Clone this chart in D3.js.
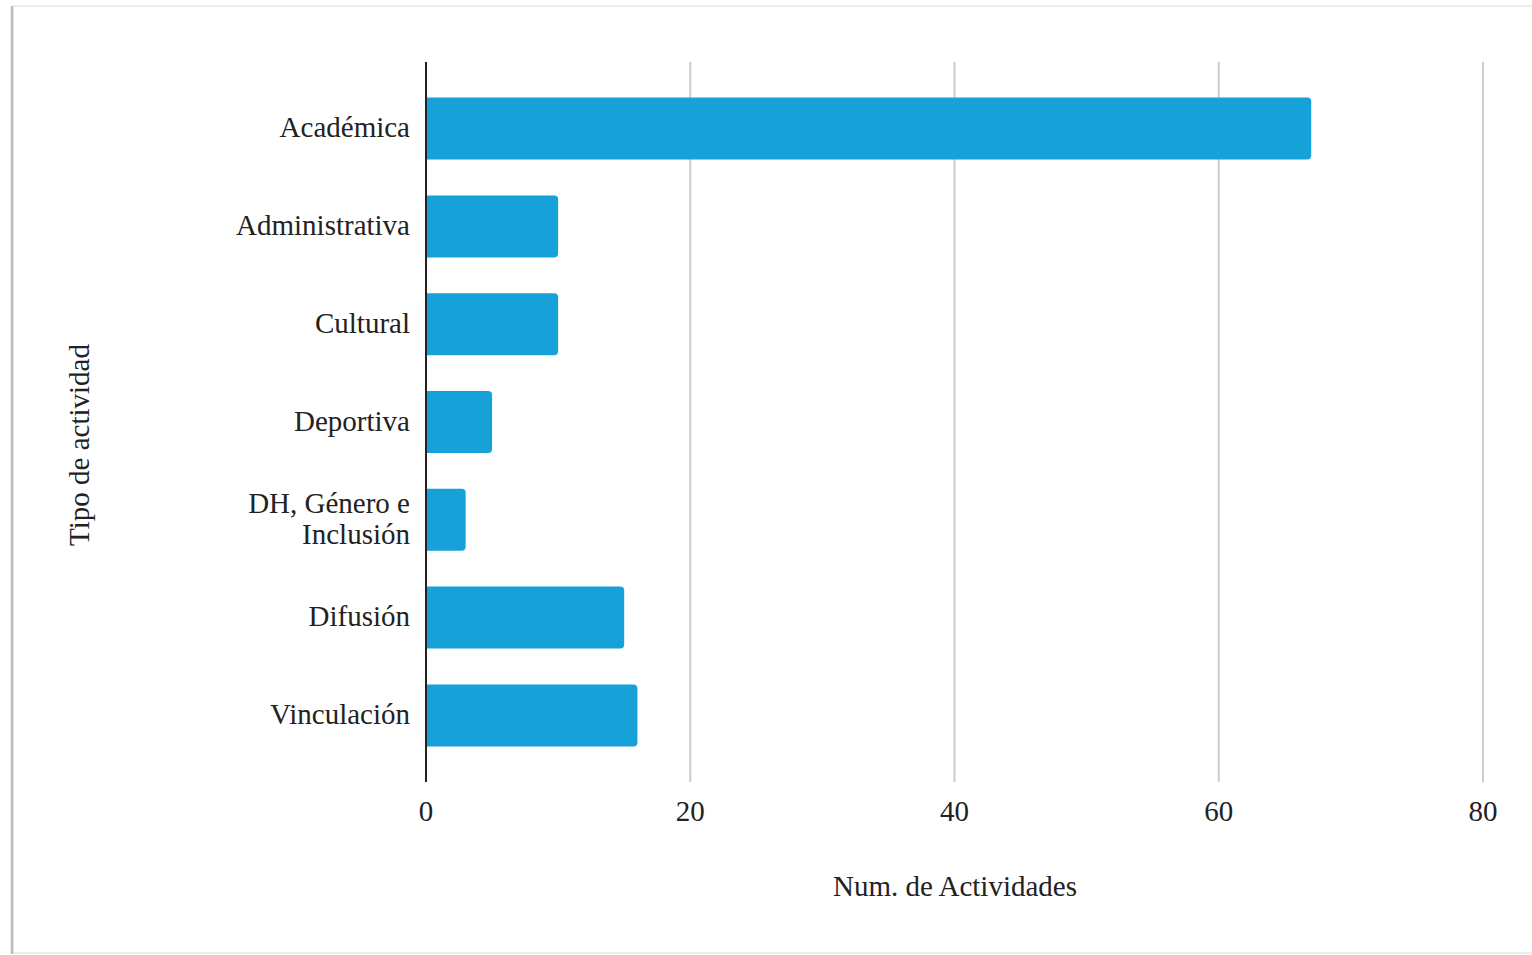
<!doctype html>
<html lang="es">
<head>
<meta charset="utf-8">
<title>Tipo de actividad</title>
<script src="https://cdn.jsdelivr.net/npm/d3@7"></script>
<style>
  html, body { margin: 0; padding: 0; background: #fff; }
  svg { display: block; }
</style>
</head>
<body>
<div id="chart"></div>
<script>

var width = 1532;
var height = 955;

// datos
var categories = ["Académica", "Administrativa", "Cultural", "Deportiva", "DH, Género e Inclusión", "Difusión", "Vinculación"];
var values = [67, 10, 10, 5, 3, 15, 16];
var xTicks = [0, 20, 40, 60, 80];
var xTitle = "Num. de Actividades";
var yTitle = "Tipo de actividad";

var serif = "'Liberation Serif', 'Times New Roman', Tinos, 'DejaVu Serif', serif";

var svg = d3.select("#chart").append("svg")
    .attr("width", width)
    .attr("height", height)
    .attr("font-family", serif)
    .style("font-family", serif);

// marco con sombra, como en la captura
svg.append("rect")
    .attr("x", 13).attr("y", 6)
    .attr("width", width - 12).attr("height", 947)
    .attr("fill", "#fff")
    .attr("stroke", "#e6e6e6")
    .attr("stroke-width", 1.5);
svg.append("line")
    .attr("x1", 12).attr("x2", 12)
    .attr("y1", 6).attr("y2", 954)
    .attr("stroke", "#bdbdbd").attr("stroke-width", 2.5);

var x = d3.scaleLinear().domain([0, 80]).range([426, 1483]);
var y = d3.scaleBand().domain(categories).range([62, 782]).paddingInner(0.366).paddingOuter(0.364);

// lineas de cuadricula
svg.append("g").selectAll("line")
    .data(xTicks.filter(function(d) { return d > 0; }))
    .enter().append("line")
    .attr("x1", function(d) { return x(d); })
    .attr("x2", function(d) { return x(d); })
    .attr("y1", 62).attr("y2", 782)
    .attr("stroke", "#cccccc")
    .attr("stroke-width", 2);

// barras, esquinas derechas redondeadas
var r = 4;
svg.append("g").selectAll("path")
    .data(values)
    .enter().append("path")
    .attr("fill", "#16a2d9")
    .attr("d", function(d, i) {
        var x0 = x(0), x1 = x(d), y0 = y(categories[i]), h = y.bandwidth();
        var p = d3.path();
        p.moveTo(x0, y0);
        p.lineTo(x1 - r, y0);
        p.arcTo(x1, y0, x1, y0 + r, r);
        p.lineTo(x1, y0 + h - r);
        p.arcTo(x1, y0 + h, x1 - r, y0 + h, r);
        p.lineTo(x0, y0 + h);
        p.closePath();
        return p.toString();
    });

// eje vertical
svg.append("line")
    .attr("x1", x(0)).attr("x2", x(0))
    .attr("y1", 62).attr("y2", 782)
    .attr("stroke", "#222").attr("stroke-width", 2);

// etiquetas de categoria
var lbl = svg.append("g").selectAll("text")
    .data(categories)
    .enter().append("text")
    .attr("text-anchor", "end")
    .attr("font-size", 29)
    .attr("fill", "#222")
    .attr("x", 410)
    .attr("y", function(d) { return y(d) + y.bandwidth() / 2; });

lbl.each(function(d) {
    var t = d3.select(this);
    var lines = d == "DH, Género e Inclusión" ? ["DH, Género e", "Inclusión"] : [d];
    var start = -(lines.length - 1) * 0.5 * 31;
    lines.forEach(function(s, k) {
        t.append("tspan")
            .attr("x", 410)
            .attr("y", y(d) + y.bandwidth() / 2 + start + k * 31)
            .attr("dy", "0.3em")
            .text(s);
    });
});

// etiquetas del eje x
svg.append("g").selectAll("text")
    .data(xTicks)
    .enter().append("text")
    .attr("text-anchor", "middle")
    .attr("font-size", 29)
    .attr("fill", "#222")
    .attr("x", function(d) { return x(d); })
    .attr("y", 812)
    .attr("dy", "0.3em")
    .text(function(d) { return d; });

// titulos
svg.append("text")
    .attr("text-anchor", "middle")
    .attr("font-size", 29)
    .attr("fill", "#222")
    .attr("x", 955).attr("y", 887)
    .attr("dy", "0.3em")
    .text(xTitle);

svg.append("text")
    .attr("text-anchor", "middle")
    .attr("font-size", 29)
    .attr("fill", "#222")
    .attr("transform", "translate(80,445) rotate(-90)")
    .attr("dy", "0.3em")
    .text(yTitle);

</script>
</body>
</html>
